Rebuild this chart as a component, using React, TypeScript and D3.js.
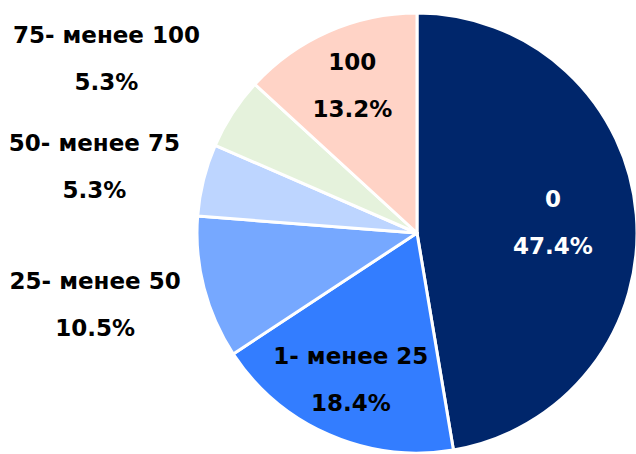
import React, { useEffect, useRef } from 'react';
import * as d3 from 'd3';

// Data
const categories = ['0', '1- менее 25', '25- менее 50', '50- менее 75', '75- менее 100', '100'];
const shares = [47.4, 18.4, 10.5, 5.3, 5.3, 13.2];
const colors = ['#00266b', '#337dff', '#76a8ff', '#bdd5ff', '#e5f2dc', '#ffd3c6'];
const labelColors = ['#ffffff', '#000000', '#000000', '#000000', '#000000', '#000000'];

// label placement: radius as fraction of pie radius, plus a small nudge
const labelRadius = [0.62, 0.73, 1.45, 1.45, 1.45, 0.73];
const labelNudge: [number, number][] = [[0, 1], [-2, 0], [-13, -8], [-13, 11], [-43, 0], [0, 0]];

const App = () => {
    const svgRef = useRef<SVGSVGElement | null>(null);

    useEffect(() => {
        document.body.style.margin = '0';
        if (!svgRef.current) return;

        const width = 636;
        const height = 454;
        const cx = 417;
        const cy = 233;
        const radius = 220;

        const svg = d3.select(svgRef.current);
        svg.selectAll('*').remove();

        const g = svg.append('g').attr('transform', `translate(${cx},${cy})`);

        const pie = d3.pie<number>().sort(null).value(d => d);
        const arcs = pie(shares);

        const arc = d3.arc<d3.PieArcDatum<number>>()
            .innerRadius(0)
            .outerRadius(radius);

        g.selectAll('path.slice')
            .data(arcs)
            .join('path')
            .attr('class', 'slice')
            .attr('d', arc)
            .attr('fill', (d, i) => colors[i])
            .attr('stroke', '#ffffff')
            .attr('stroke-width', 3)
            .attr('stroke-linejoin', 'round');

        // Labels
        const labels = g.selectAll('g.label')
            .data(arcs)
            .join('g')
            .attr('class', 'label')
            .attr('transform', (d, i) => {
                const a = (d.startAngle + d.endAngle) / 2;
                const r = radius * labelRadius[i];
                const x = Math.sin(a) * r + labelNudge[i][0];
                const y = -Math.cos(a) * r + labelNudge[i][1];
                return `translate(${x},${y})`;
            });

        labels.append('text')
            .attr('text-anchor', 'middle')
            .attr('y', -16)
            .attr('font-family', 'DejaVu Sans, Verdana, sans-serif')
            .attr('font-weight', 'bold')
            .attr('font-size', 23)
            .attr('fill', (d, i) => labelColors[i])
            .text((d, i) => categories[i]);

        labels.append('text')
            .attr('text-anchor', 'middle')
            .attr('y', 31)
            .attr('font-family', 'DejaVu Sans, Verdana, sans-serif')
            .attr('font-weight', 'bold')
            .attr('font-size', 23)
            .attr('fill', (d, i) => labelColors[i])
            .text(d => `${d3.format('.1f')(d.data)}%`);

        svg.attr('width', width).attr('height', height);
    }, []);

    return (
        <svg ref={svgRef} width={636} height={454} style={{ display: 'block', background: '#ffffff' }}></svg>
    );
};

export default App;
